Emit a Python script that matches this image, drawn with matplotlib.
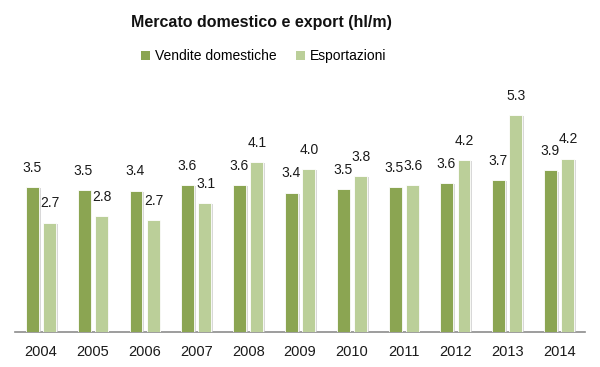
import matplotlib
matplotlib.use("Agg")
import matplotlib.pyplot as plt
import matplotlib.patheffects as pe
from matplotlib.patches import Patch
import numpy as np

years = ["2004", "2005", "2006", "2007", "2008", "2009", "2010", "2011", "2012", "2013", "2014"]
vendite_domestiche = [3.53, 3.46, 3.44, 3.58, 3.58, 3.40, 3.48, 3.53, 3.63, 3.70, 3.94]
esportazioni = [2.67, 2.82, 2.73, 3.14, 4.14, 3.97, 3.80, 3.58, 4.19, 5.29, 4.23]
series_names = ["Vendite domestiche", "Esportazioni"]
title = "Mercato domestico e export (hl/m)"

dark = "#8BA552"
light = "#BBCF99"

regular = ["Liberation Sans", "DejaVu Sans"]

fig = plt.figure(figsize=(6.0, 3.67), dpi=100)
ax = fig.add_axes([15/600, 35/367, 570/600, 246/367])

x = np.arange(len(years))
w = 0.25
off = 0.165
shadow = [pe.SimplePatchShadow(offset=(1.2, -0.8), shadow_rgbFace="#c8c8c8", alpha=0.7), pe.Normal()]
b1 = ax.bar(x - off, vendite_domestiche, w, color=dark, edgecolor="white", linewidth=0.6, zorder=3)
b2 = ax.bar(x + off, esportazioni, w, color=light, edgecolor="white", linewidth=0.6, zorder=3)
for b in list(b1) + list(b2):
    b.set_path_effects(shadow)

for xi, v in zip(x - off, vendite_domestiche):
    ax.annotate(f"{v:.1f}", (xi, v), xytext=(-0.5, 9), textcoords="offset points",
                ha="center", va="bottom", fontsize=10, family=regular, color="#1a1a1a")
for xi, v in zip(x + off, esportazioni):
    ax.annotate(f"{v:.1f}", (xi, v), xytext=(0.5, 9), textcoords="offset points",
                ha="center", va="bottom", fontsize=10, family=regular, color="#1a1a1a")

ax.set_xlim(-0.5, len(years) - 0.5)
ax.set_ylim(0, 6)
ax.set_xticks(x)
ax.set_xticklabels(years, fontsize=10.5, family=regular, color="#1a1a1a")
ax.tick_params(axis="x", length=0, pad=9)
ax.set_yticks([])
for s in ["left", "right", "top"]:
    ax.spines[s].set_visible(False)
ax.spines["bottom"].set_color("#8c8c8c")
ax.spines["bottom"].set_linewidth(1.2)

fig.text(0.435, 1 - 22/367, title, ha="center", va="center", fontsize=11.5,
         fontweight="bold", family=regular, color="#111111")

handles = [Patch(facecolor=dark, edgecolor="none"), Patch(facecolor=light, edgecolor="none")]
fig.legend(handles, series_names, loc="center", bbox_to_anchor=(0.44, 1 - 56/367), ncol=2,
           frameon=False, prop={"family": regular, "size": 10},
           handlelength=0.6, handleheight=0.6, handletextpad=0.4, columnspacing=1.4)

fig.savefig("out.png", dpi=100, facecolor="white")
